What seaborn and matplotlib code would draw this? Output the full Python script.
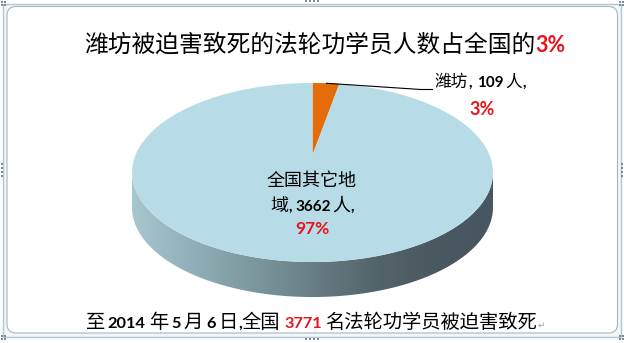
import numpy as np
import matplotlib
matplotlib.use("Agg")
import matplotlib.pyplot as plt
import seaborn as sns
from matplotlib.path import Path
from matplotlib.transforms import Transform
from matplotlib.patches import PathPatch, FancyBboxPatch, Rectangle
from matplotlib.colors import LinearSegmentedColormap

# ---- data ---------------------------------------------------------------
regions = ["潍坊", "全国其它地域"]
deaths = [109, 3662]
slice_colors = ["#e46c0a", "#b7dce7"]
title_text = "潍坊被迫害致死的法轮功学员人数占全国的"
report_year, report_month, report_day = "2014", "5", "6"
footer_tail = "名法轮功学员被迫害致死"

total = sum(deaths)
pcts = [round(100 * v / total) for v in deaths]

# ---- style --------------------------------------------------------------
sns.set_theme(style="white")
CJK = ["Noto Sans CJK SC", "DejaVu Sans"]
LAT = ["Lato", "DejaVu Sans"]
plt.rcParams["font.family"] = CJK
RED = "#e8141c"

W, H, DPI = 624, 343, 100
fig = plt.figure(figsize=(W / DPI, H / DPI), dpi=DPI)
fig.patch.set_facecolor("white")
ax = fig.add_axes([0, 0, 1, 1])


class TiltedDisc(Transform):
    """Perspective view of a unit disc lying flat, mapped to pixel space."""
    input_dims = output_dims = 2
    is_separable = False
    has_inverse = False

    def __init__(self, cx, cy, sx, sy, k):
        super().__init__()
        self.cx, self.cy, self.sx, self.sy, self.k = cx, cy, sx, sy, k

    def transform_non_affine(self, xy):
        xy = np.asarray(xy, dtype=float).reshape(-1, 2)
        x, y = xy[:, 0], xy[:, 1]
        w = 1.0 + self.k * y
        return np.column_stack([self.cx + self.sx * x / w,
                                self.cy - self.sy * y / w])

    def transform_path_non_affine(self, path):
        t = np.linspace(0.0, 1.0, 41)
        pts = []
        for seg, code in path.iter_bezier():
            if code == Path.MOVETO:
                pts.append(np.atleast_2d(seg.control_points))
            else:
                pts.append(seg(t[1:]))
        v = self.transform_non_affine(np.concatenate(pts))
        return Path(v)


# pie wedges computed by matplotlib, then viewed through the tilted disc
wedges, _ = ax.pie(deaths, colors=slice_colors, startangle=90,
                   counterclock=False, radius=1, center=(0, 0), frame=True,
                   wedgeprops=dict(linewidth=0))

ax.set_aspect("auto")
ax.set_xlim(0, W)
ax.set_ylim(H, 0)
ax.axis("off")

K = 0.1955
disc = TiltedDisc(cx=312.5, cy=155.0, sx=177.0, sy=86.1, k=K)
for w in wedges:
    w.set_transform(disc + ax.transData)
    w.set_zorder(3)

# extruded rim of the near half of the disc
DEPTH = 35.0
a0 = np.arcsin(K)
t = np.linspace(np.pi + a0, 2 * np.pi - a0, 300)
rim_top = disc.transform_non_affine(np.column_stack([np.cos(t), np.sin(t)]))
rim_bot = rim_top + np.array([0.0, DEPTH])
rim_poly = np.vstack([rim_top, rim_bot[::-1], rim_top[:1]])
rim_patch = PathPatch(Path(rim_poly, closed=True), facecolor="none",
                      edgecolor="none", zorder=2)
ax.add_patch(rim_patch)

xl, xr = rim_top[:, 0].min(), rim_top[:, 0].max()
stops_px = [xl, 200, 260, 320, 380, 430, xr]
stops_col = ["#a8c6ce", "#8eacb4", "#7a959c", "#657b81",
             "#526369", "#4a5a60", "#475660"]
side_cmap = LinearSegmentedColormap.from_list(
    "rim", list(zip([(p - xl) / (xr - xl) for p in stops_px], stops_col)))
grad = np.linspace(0, 1, 512)[None, :]
im = ax.imshow(grad, cmap=side_cmap, aspect="auto", interpolation="bilinear",
               extent=(xl, xr, rim_bot[:, 1].max() + 1, rim_top[:, 1].min() - 1),
               zorder=2)
im.set_clip_path(rim_patch)
ax.set_xlim(0, W)
ax.set_ylim(H, 0)

# ---- frame --------------------------------------------------------------
ax.add_patch(Rectangle((2.5, 3.5), 618.5, 333, facecolor="#f1f6f8",
                       edgecolor="#b4c6d0", lw=1.0, zorder=0))
ax.add_patch(FancyBboxPatch((7, 6.5), 610.5, 326.5,
                            boxstyle="round,pad=0,rounding_size=9",
                            facecolor="white", edgecolor="#aab6be",
                            lw=0.8, zorder=0.5))
hx = [306, 310, 314, 318]
ax.scatter(hx, [1.2] * 4, s=1.6, marker="s", color="#7f8a92", lw=0, zorder=5)
ax.scatter(hx, [338.5] * 4, s=1.6, marker="s", color="#7f8a92", lw=0, zorder=5)
hy = [164, 168, 172, 176]
ax.scatter([621.5] * 4, hy, s=1.6, marker="s", color="#7f8a92", lw=0, zorder=5)
ax.scatter([1.5] * 4, hy, s=1.6, marker="s", color="#7f8a92", lw=0, zorder=5)
for cxp, cyp in [(2, 2), (620, 2), (2, 336), (620, 336)]:
    ax.scatter([cxp, cxp + 3, cxp, cxp + 3], [cyp, cyp, cyp + 3, cyp + 3],
               s=1.4, marker="s", color="#7f8a92", lw=0, zorder=5)

# ---- text helper --------------------------------------------------------
renderer = fig.canvas.get_renderer()


def draw_runs(runs, x, y, align="left"):
    """Lay out differently styled pieces of text along one baseline."""
    arts = []
    for s, props, gap in runs:
        txt = ax.text(0, y, s, va="baseline", ha="left", zorder=6, **props)
        arts.append((txt, gap))
    widths = [a.get_window_extent(renderer).width for a, _ in arts]
    span = sum(widths) + sum(g for _, g in arts)
    cur = x if align == "left" else x - span / 2
    for (a, g), wd in zip(arts, widths):
        cur += g
        a.set_x(cur)
        cur += wd


def cjk(size, **kw):
    return dict(family=CJK, fontsize=size, color="black", **kw)


def num(size, color="black"):
    return dict(family=LAT, fontsize=size, fontweight="bold", color=color)


# title
draw_runs([(title_text, cjk(17.1), 0),
           (f"{pcts[0]}%", num(15.5, RED), 0)], 84, 51.5)

# label for the small slice, with its leader line
mid = np.radians((wedges[0].theta1 + wedges[0].theta2) / 2)
lx, ly = disc.transform_non_affine([[np.cos(mid), np.sin(mid)]])[0]
ax.plot([lx, 421, 433], [ly, 89.5, 89.5], color="black", lw=0.8, zorder=6,
        solid_capstyle="butt")
draw_runs([(regions[0], cjk(12), 0), (",", num(11), 1),
           (str(deaths[0]), num(11), 5), ("人", cjk(12), 1.5),
           (",", num(11), 0.5)], 434, 87)
draw_runs([(f"{pcts[0]}%", num(13, RED), 0)], 482, 115, align="center")

# label for the large slice
draw_runs([(regions[1][:-1], cjk(13), 0)], 312, 186, align="center")
draw_runs([(regions[1][-1], cjk(13), 0), (",", num(11), 0.5),
           (str(deaths[1]), num(11), 3.5), ("人", cjk(13), 0.5),
           (",", num(11), 0)], 312, 211, align="center")
draw_runs([(f"{pcts[1]}%", num(12.5, RED), 0)], 312, 234, align="center")

# footer
FS, NS = 13.9, 11.8
draw_runs([("至", cjk(FS), 0), (report_year, num(NS), 2),
           ("年", cjk(FS), 4), (report_month, num(NS), 3),
           ("月", cjk(FS), 3), (report_day, num(NS), 3),
           ("日", cjk(FS), 3), (",", num(NS), 0),
           ("全国", cjk(FS), 0), (str(total), num(NS, RED), 4),
           (footer_tail, cjk(FS), 3),
           ("↵", dict(family=["DejaVu Sans"], fontsize=6.5, color="#9aa5ab"), 0.5)],
          86, 328)

fig.savefig("out.png", dpi=DPI, facecolor="white")
